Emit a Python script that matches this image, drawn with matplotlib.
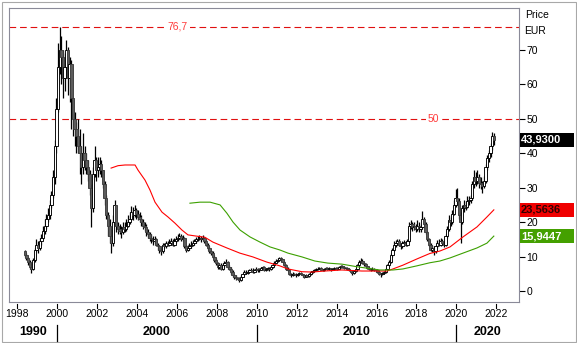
import matplotlib
matplotlib.use("Agg")
import matplotlib.pyplot as plt
from matplotlib.lines import Line2D
from matplotlib.patches import Rectangle
from matplotlib.transforms import blended_transform_factory

plt.rcParams["font.family"] = ["Liberation Sans", "DejaVu Sans"]

# monthly candles, first bar is May 1998; open of each bar = previous close
start_year, start_month = 1998, 5
first_open = 11.5

closes = [
    10.5, 9.5, 8.5, 7.0, 6.5, 9.0, 12.0, 13.5,                       # 1998
    12.5, 14.5, 15.5, 17.5, 19.0, 21.0, 22.0, 25.0, 28.0, 33.0, 42.0, 53.0,  # 1999
    65, 70, 68, 62, 65, 70, 62, 66, 56, 50, 47, 45,                    # 2000
    42, 40, 36, 40, 38, 36, 34, 30, 24, 34, 38, 35,                    # 2001
    36, 37, 35, 31, 27, 22, 19, 16, 14, 20, 25, 19,                    # 2002
    18, 17.5, 17, 18.5, 18, 19, 20, 21, 23, 22, 23.5, 22.5,            # 2003
    21.5, 21, 20, 19, 18.5, 17, 16.5, 15.5, 15, 14.5, 15, 13.5,        # 2004
    13, 12, 11.5, 13.5, 13, 14, 13.5, 14, 14.5, 13.5, 14.5, 15,        # 2005
    15.5, 16, 15, 15.5, 13, 12, 12.5, 13, 13.5, 14, 14.5, 15,          # 2006
    15.2, 15.5, 15, 15.5, 14.5, 13.5, 12.5, 11.5, 11, 10, 9, 8,        # 2007
    7, 7.5, 6.5, 7.5, 8, 8.5, 7, 6.5, 5.5, 4.5, 4, 3.8,                # 2008
    3.6, 3.2, 4.2, 4.8, 5.5, 5.2, 5.6, 6, 6.2, 5.6, 6, 6.4,            # 2009
    6, 6.2, 6.6, 6.9, 6.1, 6.4, 6.5, 6.3, 7, 7.6, 8.2, 8.8,            # 2010
    9, 9.5, 9.2, 8.5, 7.5, 6.5, 6, 5, 4.5, 5, 4.8, 4.5,                # 2011
    5, 5.2, 4.8, 4.5, 4.2, 4.5, 4.3, 4.8, 5.5, 5.8, 6, 6.3,            # 2012
    6.5, 6.8, 6.2, 6, 6.5, 6.8, 6.3, 6.6, 6.2, 6.5, 6.8, 6.6,          # 2013
    6.5, 7, 7.3, 7, 6.6, 6.8, 6.5, 6, 5.5, 5.2, 5.8, 6.3,              # 2014
    7.5, 8.5, 8.8, 8.2, 7.8, 7.2, 6.8, 6.5, 6.2, 6.5, 6.2, 6,          # 2015
    5.5, 5, 4.8, 5.2, 5.5, 6.5, 7.5, 8.5, 10.5, 12, 13.5, 14,          # 2016
    14.5, 13.5, 13, 14, 14, 13.5, 14.5, 19, 19.5, 18.5, 19, 18,        # 2017
    19, 18, 18.5, 21, 19.5, 17, 15, 13.5, 12, 12.5, 11.5, 13,          # 2018
    14, 13.5, 14.5, 14, 13.5, 16, 18, 20.5, 20, 22.5, 25, 27,          # 2019
    26, 22, 20, 24, 25, 24.5, 26, 26.5, 27, 31, 33, 32,                # 2020
    33, 31.5, 31, 30.5, 32, 36, 38.5, 40, 42, 45, 43.93,               # 2021
]

highs = [
    12.0, 11.0, 10.0, 9.0, 8.0, 9.5, 12.5, 15.0,
    14.5, 15.5, 16.5, 19.0, 21.0, 22.5, 24.0, 26.5, 29.0, 35.0, 44.0, 56.0,
    72, 76.7, 74, 70, 69, 73, 71, 68, 67, 56, 52, 49,
    50, 47, 42, 46, 42, 40, 38, 35, 31, 36, 42, 39,
    39, 39, 38, 35, 32, 28, 23, 21, 18, 22, 26.5, 25,
    20, 19.5, 19, 20, 20, 21, 22, 23, 24.8, 24.5, 25, 24,
    23.5, 23, 22, 21, 20, 19.5, 18, 17, 16.5, 16, 16, 15.5,
    14, 13.5, 12.5, 14, 14, 14.5, 14.5, 15, 15.5, 15, 15.5, 16,
    16.5, 16.8, 16.5, 16.2, 15.8, 13.5, 13.5, 14, 14.5, 14.8, 15.2, 15.8,
    16, 16.2, 16, 16.3, 15.8, 14.8, 14, 13, 12, 11.5, 10.5, 9.5,
    8.5, 8, 8, 8, 8.8, 9.2, 8.8, 7.5, 7, 6, 5, 4.5,
    4.2, 4, 4.6, 5.2, 6, 6, 6.2, 6.5, 6.8, 6.6, 6.5, 6.9,
    6.8, 6.6, 7, 7.3, 7.2, 6.8, 7, 6.9, 7.4, 8, 8.7, 9.2,
    9.5, 9.9, 9.8, 9.4, 8.7, 7.8, 6.9, 6.3, 5.3, 5.4, 5.3, 5.1,
    5.3, 5.6, 5.4, 5, 4.7, 4.8, 4.7, 5.1, 5.8, 6.2, 6.4, 6.7,
    6.9, 7.1, 7, 6.5, 6.8, 7.1, 7, 6.9, 6.8, 6.8, 7.1, 7,
    6.9, 7.3, 7.6, 7.5, 7.2, 7.1, 7, 6.7, 6.2, 5.9, 6.1, 6.7,
    7.8, 8.9, 9.6, 9.2, 8.5, 8, 7.4, 7, 6.8, 6.9, 6.7, 6.5,
    6.3, 5.8, 5.3, 5.6, 5.9, 6.8, 7.9, 9, 11, 12.5, 14.5, 14.8,
    15, 15, 14, 14.5, 14.8, 14.5, 15, 20, 20.5, 20, 20, 19.5,
    20.5, 20, 19.5, 23.2, 21.5, 20, 17.5, 15.5, 14, 13.5, 13, 13.5,
    14.8, 15, 15.5, 15, 14.5, 16.5, 19, 22, 21.5, 23.5, 26.5, 29.5,
    30, 27, 23, 25, 26.5, 26, 27.5, 27.5, 28, 32, 35, 34.5,
    35, 34, 33, 32, 33.5, 37, 39.5, 41, 43, 46.3, 46,
]

lows = [
    10.0, 9.0, 7.5, 6.5, 5.2, 6.0, 8.5, 11.5,
    11.0, 12.0, 13.5, 15.0, 16.5, 18.0, 20.0, 21.0, 24.0, 27.0, 31.0, 40.0,
    52, 63, 60, 56, 58, 62, 57, 55, 47, 45, 42, 40,
    40, 34, 31, 34, 35, 34, 32, 28, 18.6, 23, 33, 32,
    33, 34, 33, 30, 25, 21, 16, 14, 11, 13, 19, 17,
    16.5, 16.5, 15.5, 16.5, 17, 17.5, 18.5, 19.5, 20.5, 20.5, 21.5, 21,
    20.5, 20, 19, 18, 17.5, 16, 15.5, 14.5, 14, 13.5, 14, 13,
    12, 11, 10.5, 11, 12.5, 12.5, 13, 13, 13.5, 13, 13, 14,
    14.5, 15, 14.5, 14.5, 12.5, 11.2, 11.5, 12, 12.5, 13, 13.5, 14,
    14.5, 14.8, 14.3, 14.8, 14, 13, 12, 11, 10.5, 9.5, 8.5, 7.5,
    6.5, 6.5, 6, 6.2, 7, 7.5, 6.5, 6, 5, 4, 3.5, 3.2,
    3.2, 2.7, 3, 4, 4.6, 4.8, 5, 5.4, 5.7, 5.2, 5.3, 5.8,
    5.6, 5.6, 6, 6.4, 5.7, 5.8, 6, 5.9, 6.2, 6.8, 7.3, 8,
    8.4, 8.8, 8.8, 8.3, 7.2, 6.2, 5.8, 4.6, 4, 4.3, 4.5, 4.1,
    4.3, 4.8, 4.5, 4.2, 3.9, 4, 4, 4.2, 4.6, 5.2, 5.5, 5.8,
    6, 6.3, 6, 5.7, 5.8, 6.3, 6, 6.1, 5.9, 6, 6.3, 6.3,
    6.1, 6.3, 6.8, 6.7, 6.3, 6.4, 6.2, 5.8, 5.2, 4.7, 5, 5.6,
    6.1, 7.2, 8.2, 7.8, 7.4, 7, 6.5, 6.1, 5.9, 6, 5.9, 5.6,
    5.2, 4.6, 4.2, 4.5, 5, 5.3, 6.2, 7.2, 8.2, 10, 11.5, 12.8,
    13.5, 13, 12.2, 12.5, 13.2, 13, 13.2, 14.3, 18, 17.5, 17.8, 17.2,
    17.5, 17, 17.2, 18, 18.8, 16.5, 14.5, 13, 11.5, 11.3, 10.5, 11,
    12.5, 13, 13.2, 13.3, 12.8, 13.2, 15.5, 17.5, 18.8, 19.5, 22, 24.5,
    25, 21, 14, 19.5, 23, 23.5, 24, 25, 25.5, 26.5, 30, 30.5,
    31, 30, 29.5, 28.5, 30, 31.5, 35, 37.5, 39, 41, 42.5,
]

# long moving averages, sampled along the line (decimal years)
red_ma_years = [2002.70, 2003.05, 2003.40, 2003.90, 2004.05, 2004.40, 2004.65,
                2004.90, 2005.25, 2005.55, 2005.90, 2006.25, 2006.55, 2006.90,
                2007.40, 2007.80, 2008.50, 2009.15, 2009.80, 2010.50, 2011.15,
                2011.56, 2012.26, 2012.76, 2013.41, 2014.26, 2015.26, 2016.52,
                2016.82, 2017.32, 2018.02, 2018.67, 2019.17, 2019.68, 2020.33,
                2021.03, 2021.53, 2021.875]
red_ma = [35.7, 36.4, 36.6, 36.6, 35.1, 32.2, 29.3, 25.8, 22.9, 21.5, 19.7,
          17.7, 16.3, 16.0, 15.6, 14.2, 12.5, 11.0, 9.9, 8.4, 7.3, 6.4, 5.6,
          5.5, 5.8, 6.1, 5.8, 5.8, 6.4, 7.5, 9.3, 10.9, 11.6, 12.8, 15.7,
          18.6, 21.5, 23.5636]

green_ma_years = [2006.65, 2007.15, 2007.66, 2008.16, 2008.50, 2008.81, 2009.16,
                  2009.66, 2010.16, 2010.66, 2011.16, 2011.56, 2012.26, 2012.91,
                  2013.56, 2014.26, 2015.06, 2016.16, 2016.82, 2017.32, 2018.02,
                  2018.67, 2019.17, 2019.68, 2020.33, 2021.03, 2021.53, 2021.875]
green_ma = [25.5, 25.8, 25.8, 25.0, 22.6, 20.0, 17.7, 15.7, 14.2, 12.8, 11.9,
            11.0, 9.9, 8.7, 8.1, 7.8, 7.0, 6.1, 6.1, 6.4, 7.3, 8.2, 8.7, 9.6,
            11.0, 12.5, 13.9, 15.9447]

levels = [76.7, 50]
level_labels = ["76,7", "50"]
year_ticks = list(range(1998, 2023, 2))
y_ticks = list(range(0, 80, 10))
decades = [1990, 2000, 2010, 2020]

W, H = 577, 343
fig = plt.figure(figsize=(W / 100, H / 100), dpi=100)
fig.patch.set_facecolor("white")
ax = fig.add_axes([9 / W, (H - 302) / H, 510 / W, 294 / H])
x0, x1 = 1997.585, 2023.136
ax.set_xlim(x0, x1)
ax.set_ylim(-3.2, 82.2)

# candles
t = [start_year + (start_month - 1 + i + 0.5) / 12 for i in range(len(closes))]
opens = [first_open] + closes[:-1]
ax.vlines(t, lows, highs, color="black", lw=0.9, zorder=2)
bottoms = [min(o, c) for o, c in zip(opens, closes)]
heights = [max(abs(c - o), 0.15) for o, c in zip(opens, closes)]
colors = ["white" if c >= o else "#5c5c5c" for o, c in zip(opens, closes)]
edges = ["black" if c >= o else "#3c3c3c" for o, c in zip(opens, closes)]
ax.bar(t, heights, bottom=bottoms, width=0.12, color=colors,
       edgecolor=edges, linewidth=0.65, zorder=3)

ax.plot(red_ma_years, red_ma, color="#ff0000", lw=0.8, zorder=4)
ax.plot(green_ma_years, green_ma, color="#3ca000", lw=0.8, zorder=4)

# horizontal levels
label_x = {"76,7": 2006.05, "50": 2018.83}
for lv, lab in zip(levels, level_labels):
    ax.axhline(lv, color="#e01010", lw=0.8, dashes=(6, 3.5), zorder=1)
    ax.text(label_x[lab], lv, lab, color="#ff3b3b", fontsize=7.5,
            ha="center", va="center", zorder=5,
            bbox=dict(facecolor="white", edgecolor="none", pad=1.2))

for s in ax.spines.values():
    s.set_color("#8a8a98")
    s.set_linewidth(0.8)

ax.yaxis.tick_right()
ax.set_yticks(y_ticks)
ax.tick_params(axis="y", direction="out", length=4, width=0.8, pad=1.5,
               labelsize=7.5, colors="black")
ax.set_xticks(year_ticks)
ax.tick_params(axis="x", length=0, pad=5, labelsize=7.5)

# detached year tick marks and decade row
tx = blended_transform_factory(ax.transData, fig.transFigure)
for yr in year_ticks:
    fig.add_artist(Line2D([yr, yr], [(H - 304) / H, (H - 308) / H],
                          transform=tx, color="black", lw=0.8))
for d in decades:
    lo, hi = max(d, x0), min(d + 10, x1)
    ax.text((lo + hi) / 2, (H - 332) / H, str(d), transform=tx,
            ha="center", va="center", fontsize=9, fontweight="bold")
    if d > x0:
        fig.add_artist(Line2D([d, d], [(H - 325) / H, (H - 341) / H],
                              transform=tx, color="black", lw=0.9))

fig.text(525 / W, (H - 15) / H, "Price", fontsize=7.5, va="center")
fig.text(524 / W, (H - 31) / H, "EUR", fontsize=7.5, va="center")

# last-value boxes on the price scale
bx = blended_transform_factory(fig.transFigure, ax.transData)
box_h = 14 / 3.443
for val, face, txt_col in [(closes[-1], "black", "white"),
                           (red_ma[-1], "#f00000", "#300000"),
                           (green_ma[-1], "#44a000", "white")]:
    fig.add_artist(Rectangle((520 / W, val - box_h / 2), 54 / W, box_h,
                             transform=bx, facecolor=face, edgecolor="none"))
    fig.add_artist(plt.Text(521 / W, val, f"{val:.4f}".replace(".", ","),
                            transform=bx, color=txt_col, fontsize=8,
                            fontweight="bold", va="center", ha="left"))

fig.add_artist(Rectangle((1.5 / W, 1.5 / H), (W - 3) / W, (H - 3) / H,
                         transform=fig.transFigure, facecolor="none",
                         edgecolor="#a8a8a8", lw=0.8))

fig.savefig("out.png", dpi=100)
